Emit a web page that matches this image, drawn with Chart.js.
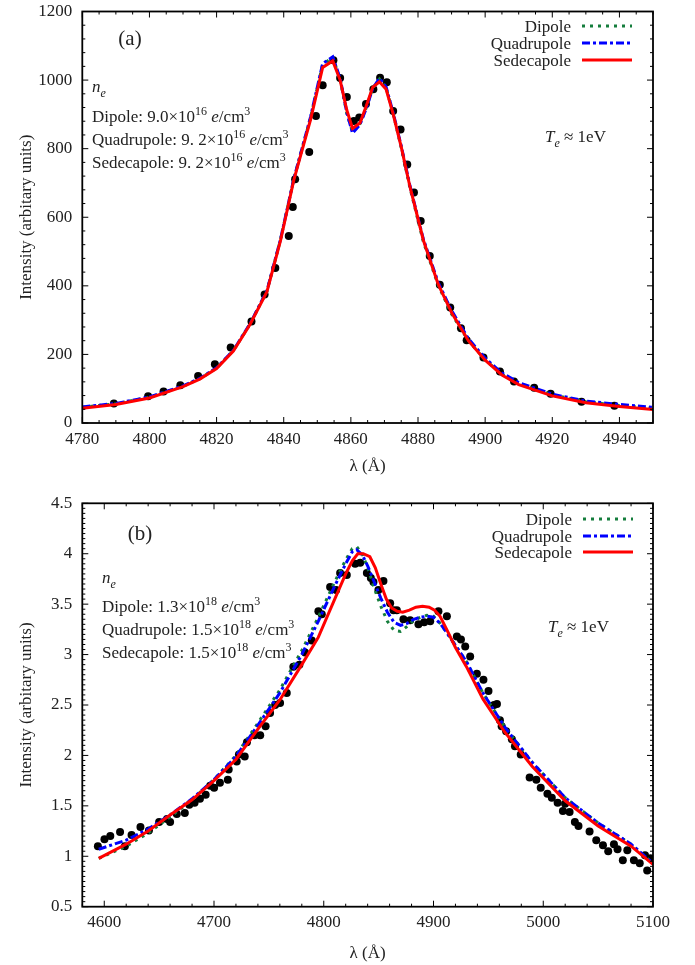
<!DOCTYPE html>
<html>
<head>
<meta charset="utf-8">
<script src="https://cdn.jsdelivr.net/npm/chart.js@4.4.1/dist/chart.umd.min.js"></script>
<style>
html,body{margin:0;padding:0;background:#fff;}
#c1{position:absolute;left:0;top:0;}
#c2{position:absolute;left:0;top:490px;}
</style>
</head>
<body>
<canvas id="c1" width="695" height="490"></canvas>
<canvas id="c2" width="695" height="475"></canvas>
<script>
// ---------- Panel (a) data ----------
const aPointsLambda = [4789.4,4799.6,4804.2,4809.2,4814.5,4819.5,4824.2,4830.4,4834.3,4837.5,4841.5,4842.7,4843.4,4847.6,4849.6,4851.6,4854.8,4856.8,4858.8,4860.9,4862.5,4864.5,4866.7,4868.7,4870.7,4872.6,4874.8,4876.8,4878.8,4880.8,4883.5,4886.5,4889.6,4892.8,4894.5,4899.5,4904.4,4908.6,4914.6,4919.5,4928.7,4938.5];
const aPointsIntensity = [57,78,92,110,137,171,220,296,375,452,545,630,711,790,895,985,1058,1006,951,881,891,930,973,1007,994,910,856,754,672,589,487,403,337,276,241,191,150,121,103,85,62,50];

const aSedLambda = [4780,4790,4800,4810,4815,4820,4825,4830,4835,4839,4843,4848,4851.6,4854.6,4856.8,4858.8,4860.5,4862.7,4864.5,4866.5,4868.5,4870.5,4872.6,4875,4877.6,4881.6,4886,4890,4895,4900,4905,4910,4920,4930,4940,4950];
const aSedIntensity = [43,54,73,106,128,159,210,288,383,530,708,885,1037,1056,1000,912,859,875,922,979,995,973,901,805,689,533,405,322,240,183,140,112,79,59,48,39];

const aQuadLambda = aSedLambda.slice();
const aQuadIntensity = [47,57,76,108,130,161,212,290,386,534,712,893,1048,1068,1005,905,845,870,915,975,1005,980,905,808,692,536,410,328,246,189,146,118,84,64,54,46];

const aDipLambda = aSedLambda.slice();
const aDipIntensity = [46,56,75,107,129,160,211,289,385,533,711,891,1046,1066,1003,903,848,872,917,976,1003,978,902,803,686,528,402,318,240,184,142,115,82,62,51,43];

// ---------- Panel (b) data ----------
const bPointsLambda = [4594.2,4600.2,4605.5,4614.4,4618.8,4624.9,4633.0,4640.7,4650.0,4657.2,4660.0,4666.1,4673.4,4677.5,4682.3,4687.2,4692.4,4696.5,4700.1,4705.4,4712.6,4713.4,4720.7,4722.7,4728.0,4730.0,4736.9,4742.1,4747.0,4751.1,4755.7,4760.2,4766.3,4772.3,4777.8,4783.0,4789.1,4795.1,4798.2,4805.8,4811.3,4814.9,4821.0,4828.6,4833.2,4839.3,4842.9,4845.3,4849.8,4854.4,4860.5,4863.5,4866.6,4872.6,4878.7,4886.3,4891.5,4897.0,4904.5,4912.2,4921.3,4925.0,4928.9,4933.4,4939.5,4945.5,4950.1,4955.2,4957.8,4960.5,4962.1,4966.2,4971.4,4974.2,4979.5,4987.6,4993.7,4997.7,5003.8,5007.8,5013.1,5017.9,5019.9,5024.0,5028.8,5032.1,5042.2,5048.3,5054.4,5059.2,5064.4,5067.7,5072.5,5076.6,5082.6,5087.9,5092.7,5094.7,5098.0];
const bPointsIntensity = [1.10,1.17,1.20,1.24,1.10,1.21,1.29,1.255,1.34,1.37,1.34,1.42,1.43,1.51,1.53,1.57,1.61,1.70,1.68,1.73,1.76,1.86,1.94,2.01,1.99,2.13,2.20,2.20,2.29,2.42,2.50,2.52,2.62,2.88,2.90,3.02,3.14,3.43,3.40,3.67,3.64,3.81,3.79,3.90,3.91,3.81,3.76,3.72,3.64,3.73,3.51,3.44,3.44,3.35,3.34,3.30,3.32,3.33,3.43,3.38,3.18,3.15,3.08,2.98,2.81,2.75,2.64,2.50,2.51,2.35,2.29,2.24,2.16,2.09,2.01,1.78,1.76,1.68,1.62,1.58,1.53,1.45,1.52,1.44,1.34,1.30,1.245,1.16,1.11,1.05,1.12,1.07,0.96,1.06,0.96,0.93,1.01,0.86,0.98];

const bSedLambda = [4595,4620,4640,4660,4680,4700,4720,4740,4760,4780,4795,4810,4820,4826,4831,4836,4842,4847,4852,4857,4862,4867,4872,4878,4884,4890,4896,4901,4906,4912,4920,4930,4945,4965,4990,5020,5050,5080,5100];
const bSedIntensity = [0.98,1.12,1.25,1.41,1.56,1.75,1.96,2.26,2.55,2.90,3.17,3.55,3.80,3.93,4.00,4.00,3.97,3.86,3.70,3.55,3.46,3.43,3.42,3.44,3.47,3.48,3.47,3.44,3.38,3.25,3.07,2.88,2.56,2.23,1.89,1.55,1.30,1.10,0.92];

const bQuadLambda = [4595,4620,4640,4660,4680,4700,4720,4740,4760,4780,4795,4810,4820,4826,4830,4835,4840,4846,4852,4858,4864,4870,4876,4882,4888,4894,4900,4906,4912,4920,4930,4945,4965,4990,5020,5050,5080,5100];
const bQuadIntensity = [1.07,1.16,1.27,1.41,1.57,1.76,1.99,2.30,2.62,3.00,3.33,3.68,3.90,4.02,4.04,3.99,3.88,3.72,3.56,3.42,3.32,3.29,3.31,3.35,3.37,3.38,3.37,3.31,3.22,3.09,2.93,2.62,2.28,1.93,1.58,1.33,1.12,0.93];

const bDipLambda = bQuadLambda.slice();
const bDipIntensity = [0.98,1.10,1.23,1.39,1.56,1.76,2.00,2.32,2.65,3.04,3.37,3.72,3.94,4.05,4.07,4.00,3.86,3.66,3.48,3.33,3.24,3.23,3.28,3.34,3.37,3.39,3.38,3.31,3.22,3.09,2.93,2.62,2.28,1.93,1.58,1.33,1.12,0.93];

const seriesNames = ['Dipole','Quadrupole','Sedecapole'];

// ---------- styles ----------
const FONT = '"Liberation Serif", "Times New Roman", serif';
const styles = {
  Dipole: {color:'rgb(20,125,60)', dash:[3,5], width:3},
  Quadrupole: {color:'#0000ff', dash:[8,3,3,3], width:3},
  Sedecapole: {color:'#ff0000', dash:[], width:3}
};

function pts(xs, ys){ return xs.map((x,i)=>({x:x, y:ys[i]})); }

function lineDs(name, xs, ys, order){
  const s = styles[name];
  return {label:name, data:pts(xs,ys), showLine:true, pointRadius:0, borderColor:s.color,
    borderWidth:s.width, borderDash:s.dash, fill:false, tension:0, order:order};
}

function drawRich(ctx, x, y, segs, size){
  let cx = x;
  ctx.textAlign = 'left';
  ctx.textBaseline = 'alphabetic';
  for (const s of segs){
    const fs = (s.sup||s.sub) ? Math.round(size*0.72) : size;
    ctx.font = (s.it?'italic ':'') + fs + 'px ' + FONT;
    const dy = s.sup ? -size*0.42 : (s.sub ? size*0.28 : 0);
    ctx.fillText(s.t, cx, y+dy);
    cx += ctx.measureText(s.t).width;
  }
}

const decor = {
  id:'decor',
  afterDatasetsDraw(chart, args, o){
    const {ctx, chartArea:a, scales:{x, y}} = chart;
    ctx.save();
    ctx.strokeStyle = '#000';
    ctx.lineWidth = 1;
    ctx.beginPath();
    const eps = 1e-6;
    for (let v = o.xMin; v <= o.xMax + eps; v += o.xMinor){
      const isMaj = Math.abs(((v - o.xMajor0) / o.xMajor) - Math.round((v - o.xMajor0)/o.xMajor)) < 1e-6;
      const len = isMaj ? 6 : 3;
      const px = x.getPixelForValue(v);
      ctx.moveTo(px, a.bottom); ctx.lineTo(px, a.bottom - len);
      ctx.moveTo(px, a.top); ctx.lineTo(px, a.top + len);
    }
    for (let v = o.yMin; v <= o.yMax + eps; v += o.yMinor){
      const isMaj = Math.abs(((v - o.yMin) / o.yMajor) - Math.round((v - o.yMin)/o.yMajor)) < 1e-6;
      const len = isMaj ? 6 : 3;
      const py = y.getPixelForValue(v);
      ctx.moveTo(a.left, py); ctx.lineTo(a.left + len, py);
      ctx.moveTo(a.right, py); ctx.lineTo(a.right - len, py);
    }
    ctx.stroke();
    ctx.lineWidth = 1.8;
    ctx.strokeRect(a.left, a.top, a.right - a.left, a.bottom - a.top);

    ctx.fillStyle = '#222';
    ctx.font = '21px ' + FONT;
    ctx.textAlign = 'center';
    ctx.textBaseline = 'alphabetic';
    ctx.fillText(o.panel, o.panelX, o.panelY);

    drawRich(ctx, o.textX, o.neY, [{t:'n',it:1},{t:'e',it:1,sub:1}], 17);
    o.rows.forEach((row, i) => {
      drawRich(ctx, o.textX, o.rowY[i], [{t:row[0]},{t:row[1],sup:1},{t:' '},{t:'e',it:1},{t:'/cm'},{t:'3',sup:1}], 17);
    });

    drawRich(ctx, o.teX, o.teY, [{t:'T',it:1},{t:'e',it:1,sub:1},{t:' \u2248 1eV'}], 17);

    seriesNames.forEach((name, i) => {
      const s = styles[name];
      const by = o.legY[i];
      ctx.fillStyle = '#222';
      ctx.font = '17px ' + FONT;
      ctx.textAlign = 'right';
      ctx.fillText(name, o.legTextX, by);
      ctx.beginPath();
      ctx.strokeStyle = s.color;
      ctx.lineWidth = s.width;
      ctx.setLineDash(s.dash);
      ctx.moveTo(o.legX1, by - 6);
      ctx.lineTo(o.legX2, by - 6);
      ctx.stroke();
      ctx.setLineDash([]);
    });
    ctx.restore();
  }
};

function zeroPad(s){ s.paddingTop = 0; s.paddingBottom = 0; s.paddingLeft = 0; s.paddingRight = 0; }

function makeChart(id, cfg){
  const tickFont = {family:FONT, size:17};
  return new Chart(document.getElementById(id), {
    type:'scatter',
    data:{datasets:[
      lineDs('Sedecapole', cfg.sed[0], cfg.sed[1], 0),
      lineDs('Quadrupole', cfg.quad[0], cfg.quad[1], 1),
      lineDs('Dipole', cfg.dip[0], cfg.dip[1], 2),
      {label:'data', data:pts(cfg.pts[0], cfg.pts[1]), pointRadius:4, pointBackgroundColor:'#000',
        pointBorderColor:'#000', pointBorderWidth:0, showLine:false, order:3}
    ]},
    options:{
      responsive:false, animation:false, devicePixelRatio:1,
      layout:{padding:{left:0, right:42, top:cfg.padTop, bottom:0}},
      plugins:{legend:{display:false}, tooltip:{enabled:false}, decor:cfg.decor},
      scales:{
        x:{type:'linear', min:cfg.xMin, max:cfg.xMax,
          border:{display:false}, grid:{display:false, drawTicks:false},
          ticks:{stepSize:cfg.xStep, includeBounds:false, autoSkip:false, maxRotation:0,
            font:tickFont, color:'#222', padding:6, callback:(v)=>String(v)},
          title:{display:true, text:'\u03bb (\u00c5)', font:{family:FONT, size:17}, color:'#222',
            padding:{top:0, bottom:cfg.xTitlePad}},
          afterFit:(s)=>{ s.height = cfg.xAxisH; zeroPad(s); }
        },
        y:{type:'linear', min:cfg.yMin, max:cfg.yMax,
          border:{display:false}, grid:{display:false, drawTicks:false},
          ticks:{stepSize:cfg.yStep, includeBounds:false, autoSkip:false,
            font:tickFont, color:'#222', padding:10, callback:(v)=>String(Math.round(v*100)/100)},
          title:{display:true, text:'Intensity (arbitary units)', font:{family:FONT, size:17}, color:'#222',
            padding:{top:16, bottom:0}},
          afterFit:(s)=>{ s.width = 82.3; zeroPad(s); }
        }
      }
    },
    plugins:[decor]
  });
}

makeChart('c1', {
  sed:[aSedLambda, aSedIntensity], quad:[aQuadLambda, aQuadIntensity], dip:[aDipLambda, aDipIntensity],
  pts:[aPointsLambda, aPointsIntensity],
  xMin:4780, xMax:4950, xStep:20, yMin:0, yMax:1200, yStep:200,
  padTop:11.5, xAxisH:67, xTitlePad:13,
  decor:{xMin:4780, xMax:4950, xMinor:5, xMajor:20, xMajor0:4780, yMin:0, yMax:1200, yMinor:40, yMajor:200,
    panel:'(a)', panelX:130, panelY:45,
    textX:92, neY:92, rowY:[122,145,168],
    rows:[['Dipole: 9.0\u00d710','16'],['Quadrupole: 9. 2\u00d710','16'],['Sedecapole: 9. 2\u00d710','16']],
    teX:545, teY:142,
    legY:[32,49,66], legTextX:571, legX1:582, legX2:632}
});

makeChart('c2', {
  sed:[bSedLambda, bSedIntensity], quad:[bQuadLambda, bQuadIntensity], dip:[bDipLambda, bDipIntensity],
  pts:[bPointsLambda, bPointsIntensity],
  xMin:4580, xMax:5100, xStep:100, yMin:0.5, yMax:4.5, yStep:0.5,
  padTop:13.3, xAxisH:58.3, xTitlePad:1,
  decor:{xMin:4580, xMax:5100, xMinor:20, xMajor:100, xMajor0:4600, yMin:0.5, yMax:4.5, yMinor:0.05, yMajor:0.5,
    panel:'(b)', panelX:140, panelY:50,
    textX:102, neY:93, rowY:[122,145,168],
    rows:[['Dipole: 1.3\u00d710','18'],['Quadrupole: 1.5\u00d710','18'],['Sedecapole: 1.5\u00d710','18']],
    teX:548, teY:142,
    legY:[35,52,68], legTextX:572, legX1:583, legX2:633}
});
</script>
</body>
</html>
